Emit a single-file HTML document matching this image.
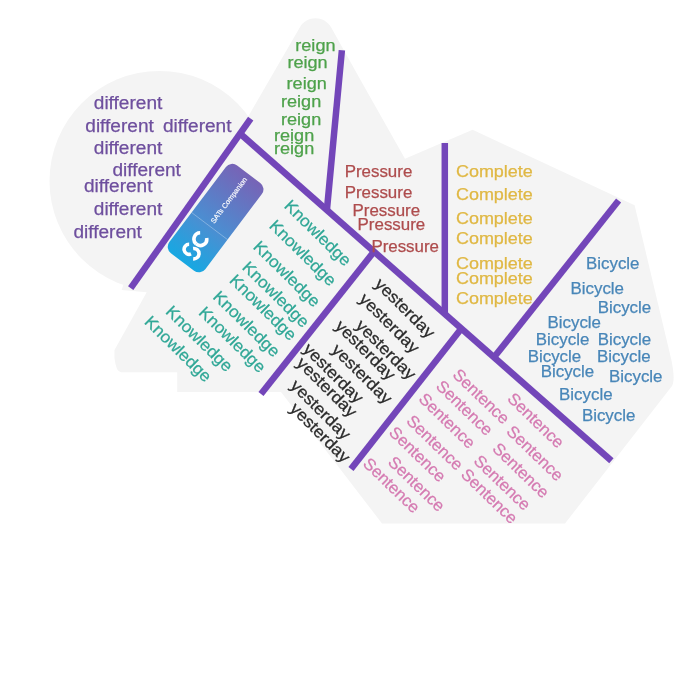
<!DOCTYPE html><html><head><meta charset="utf-8"><style>html,body{margin:0;padding:0;background:#fff;width:700px;height:700px;overflow:hidden}svg{display:block;will-change:transform}text{font-family:"Liberation Sans",sans-serif}</style></head><body>
<svg width="700" height="700" viewBox="0 0 700 700">
<g fill="#f4f4f4">
<circle cx="159.5" cy="181" r="110"/>
<path d="M 248.5,116 L 299.9,27.2 C 306.9,15.1 324.4,15.3 331.2,27.5 L 362.9,84.3 L 405,158.8 L 472.6,129.7 L 634.6,205.2 L 671.4,360 Q 675.5,380 672,386 L 565,523.5 L 382,523.5 L 281,392 L 177.2,392 L 177.2,372.2 L 121,372.2 Q 116,372 114.5,358 L 114.5,350 L 146.7,292.3 L 121.6,290 L 159.5,181 Z"/>
</g>
<g stroke="#7346b9" stroke-width="6.5" stroke-linecap="butt">
<line x1="250.7" y1="118.6" x2="130.7" y2="288.2"/>
<line x1="241.4" y1="134.7" x2="611.4" y2="460.8"/>
<line x1="341.9" y1="50.3" x2="326.9" y2="210"/>
<line x1="444.8" y1="143" x2="444.8" y2="313.5"/>
<line x1="618.6" y1="200.6" x2="494" y2="357.3"/>
<line x1="374" y1="251.6" x2="261" y2="394"/>
<line x1="461.4" y1="328.6" x2="351" y2="469"/>
</g>
<text x="93.8" y="108.6" font-size="18" fill="#6e4f9e" stroke="#6e4f9e" stroke-width="0.25" textLength="68.5" lengthAdjust="spacingAndGlyphs">different</text>
<text x="85.3" y="132.4" font-size="18" fill="#6e4f9e" stroke="#6e4f9e" stroke-width="0.25" textLength="68.5" lengthAdjust="spacingAndGlyphs">different</text>
<text x="163.0" y="132.4" font-size="18" fill="#6e4f9e" stroke="#6e4f9e" stroke-width="0.25" textLength="68.5" lengthAdjust="spacingAndGlyphs">different</text>
<text x="93.8" y="154.2" font-size="18" fill="#6e4f9e" stroke="#6e4f9e" stroke-width="0.25" textLength="68.5" lengthAdjust="spacingAndGlyphs">different</text>
<text x="112.4" y="176.0" font-size="18" fill="#6e4f9e" stroke="#6e4f9e" stroke-width="0.25" textLength="68.5" lengthAdjust="spacingAndGlyphs">different</text>
<text x="84.0" y="192.1" font-size="18" fill="#6e4f9e" stroke="#6e4f9e" stroke-width="0.25" textLength="68.5" lengthAdjust="spacingAndGlyphs">different</text>
<text x="93.8" y="215.4" font-size="18" fill="#6e4f9e" stroke="#6e4f9e" stroke-width="0.25" textLength="68.5" lengthAdjust="spacingAndGlyphs">different</text>
<text x="73.4" y="238.2" font-size="18" fill="#6e4f9e" stroke="#6e4f9e" stroke-width="0.25" textLength="68.5" lengthAdjust="spacingAndGlyphs">different</text>
<text x="295.3" y="50.8" font-size="16" fill="#4ea24b" stroke="#4ea24b" stroke-width="0.25" textLength="40.2" lengthAdjust="spacingAndGlyphs">reign</text>
<text x="287.4" y="68.1" font-size="16" fill="#4ea24b" stroke="#4ea24b" stroke-width="0.25" textLength="40.2" lengthAdjust="spacingAndGlyphs">reign</text>
<text x="286.6" y="89.0" font-size="16" fill="#4ea24b" stroke="#4ea24b" stroke-width="0.25" textLength="40.2" lengthAdjust="spacingAndGlyphs">reign</text>
<text x="281.0" y="107.1" font-size="16" fill="#4ea24b" stroke="#4ea24b" stroke-width="0.25" textLength="40.2" lengthAdjust="spacingAndGlyphs">reign</text>
<text x="281.0" y="124.7" font-size="16" fill="#4ea24b" stroke="#4ea24b" stroke-width="0.25" textLength="40.2" lengthAdjust="spacingAndGlyphs">reign</text>
<text x="274.0" y="141.0" font-size="16" fill="#4ea24b" stroke="#4ea24b" stroke-width="0.25" textLength="40.2" lengthAdjust="spacingAndGlyphs">reign</text>
<text x="274.0" y="153.5" font-size="16" fill="#4ea24b" stroke="#4ea24b" stroke-width="0.25" textLength="40.2" lengthAdjust="spacingAndGlyphs">reign</text>
<text x="344.7" y="176.5" font-size="15.8" fill="#ae4c4d" stroke="#ae4c4d" stroke-width="0.25" textLength="67.6" lengthAdjust="spacingAndGlyphs">Pressure</text>
<text x="344.7" y="198.2" font-size="15.8" fill="#ae4c4d" stroke="#ae4c4d" stroke-width="0.25" textLength="67.6" lengthAdjust="spacingAndGlyphs">Pressure</text>
<text x="352.5" y="215.5" font-size="15.8" fill="#ae4c4d" stroke="#ae4c4d" stroke-width="0.25" textLength="67.6" lengthAdjust="spacingAndGlyphs">Pressure</text>
<text x="357.6" y="230.4" font-size="15.8" fill="#ae4c4d" stroke="#ae4c4d" stroke-width="0.25" textLength="67.6" lengthAdjust="spacingAndGlyphs">Pressure</text>
<text x="371.4" y="251.6" font-size="15.8" fill="#ae4c4d" stroke="#ae4c4d" stroke-width="0.25" textLength="67.6" lengthAdjust="spacingAndGlyphs">Pressure</text>
<text x="455.9" y="177.2" font-size="16.6" fill="#e0b844" stroke="#e0b844" stroke-width="0.25" textLength="77" lengthAdjust="spacingAndGlyphs">Complete</text>
<text x="455.9" y="199.6" font-size="16.6" fill="#e0b844" stroke="#e0b844" stroke-width="0.25" textLength="77" lengthAdjust="spacingAndGlyphs">Complete</text>
<text x="455.9" y="224.0" font-size="16.6" fill="#e0b844" stroke="#e0b844" stroke-width="0.25" textLength="77" lengthAdjust="spacingAndGlyphs">Complete</text>
<text x="455.9" y="244.1" font-size="16.6" fill="#e0b844" stroke="#e0b844" stroke-width="0.25" textLength="77" lengthAdjust="spacingAndGlyphs">Complete</text>
<text x="455.9" y="268.8" font-size="16.6" fill="#e0b844" stroke="#e0b844" stroke-width="0.25" textLength="77" lengthAdjust="spacingAndGlyphs">Complete</text>
<text x="455.9" y="284.1" font-size="16.6" fill="#e0b844" stroke="#e0b844" stroke-width="0.25" textLength="77" lengthAdjust="spacingAndGlyphs">Complete</text>
<text x="455.9" y="303.6" font-size="16.6" fill="#e0b844" stroke="#e0b844" stroke-width="0.25" textLength="77" lengthAdjust="spacingAndGlyphs">Complete</text>
<text x="586.0" y="268.9" font-size="17" fill="#4886b8" stroke="#4886b8" stroke-width="0.25" textLength="53.5" lengthAdjust="spacingAndGlyphs">Bicycle</text>
<text x="570.5" y="293.8" font-size="17" fill="#4886b8" stroke="#4886b8" stroke-width="0.25" textLength="53.5" lengthAdjust="spacingAndGlyphs">Bicycle</text>
<text x="597.7" y="313.3" font-size="17" fill="#4886b8" stroke="#4886b8" stroke-width="0.25" textLength="53.5" lengthAdjust="spacingAndGlyphs">Bicycle</text>
<text x="547.5" y="327.7" font-size="17" fill="#4886b8" stroke="#4886b8" stroke-width="0.25" textLength="53.5" lengthAdjust="spacingAndGlyphs">Bicycle</text>
<text x="535.8" y="344.8" font-size="17" fill="#4886b8" stroke="#4886b8" stroke-width="0.25" textLength="53.5" lengthAdjust="spacingAndGlyphs">Bicycle</text>
<text x="597.7" y="344.8" font-size="17" fill="#4886b8" stroke="#4886b8" stroke-width="0.25" textLength="53.5" lengthAdjust="spacingAndGlyphs">Bicycle</text>
<text x="527.7" y="361.6" font-size="17" fill="#4886b8" stroke="#4886b8" stroke-width="0.25" textLength="53.5" lengthAdjust="spacingAndGlyphs">Bicycle</text>
<text x="597.1" y="361.6" font-size="17" fill="#4886b8" stroke="#4886b8" stroke-width="0.25" textLength="53.5" lengthAdjust="spacingAndGlyphs">Bicycle</text>
<text x="540.7" y="376.5" font-size="17" fill="#4886b8" stroke="#4886b8" stroke-width="0.25" textLength="53.5" lengthAdjust="spacingAndGlyphs">Bicycle</text>
<text x="609.0" y="382.0" font-size="17" fill="#4886b8" stroke="#4886b8" stroke-width="0.25" textLength="53.5" lengthAdjust="spacingAndGlyphs">Bicycle</text>
<text x="559.1" y="399.6" font-size="17" fill="#4886b8" stroke="#4886b8" stroke-width="0.25" textLength="53.5" lengthAdjust="spacingAndGlyphs">Bicycle</text>
<text x="581.9" y="421.3" font-size="17" fill="#4886b8" stroke="#4886b8" stroke-width="0.25" textLength="53.5" lengthAdjust="spacingAndGlyphs">Bicycle</text>
<text x="283.2" y="206.8" font-size="16.5" fill="#2fa796" stroke="#2fa796" stroke-width="0.25" textLength="86" lengthAdjust="spacingAndGlyphs" transform="rotate(44.5 283.2 206.8)">Knowledge</text>
<text x="268.2" y="226.7" font-size="16.5" fill="#2fa796" stroke="#2fa796" stroke-width="0.25" textLength="86" lengthAdjust="spacingAndGlyphs" transform="rotate(44.5 268.2 226.7)">Knowledge</text>
<text x="252.2" y="247.7" font-size="16.5" fill="#2fa796" stroke="#2fa796" stroke-width="0.25" textLength="86" lengthAdjust="spacingAndGlyphs" transform="rotate(44.5 252.2 247.7)">Knowledge</text>
<text x="241.2" y="268.2" font-size="16.5" fill="#2fa796" stroke="#2fa796" stroke-width="0.25" textLength="86" lengthAdjust="spacingAndGlyphs" transform="rotate(44.5 241.2 268.2)">Knowledge</text>
<text x="228.5" y="281.2" font-size="16.5" fill="#2fa796" stroke="#2fa796" stroke-width="0.25" textLength="86" lengthAdjust="spacingAndGlyphs" transform="rotate(44.5 228.5 281.2)">Knowledge</text>
<text x="212.0" y="297.7" font-size="16.5" fill="#2fa796" stroke="#2fa796" stroke-width="0.25" textLength="86" lengthAdjust="spacingAndGlyphs" transform="rotate(44.5 212.0 297.7)">Knowledge</text>
<text x="197.8" y="313.4" font-size="16.5" fill="#2fa796" stroke="#2fa796" stroke-width="0.25" textLength="86" lengthAdjust="spacingAndGlyphs" transform="rotate(44.5 197.8 313.4)">Knowledge</text>
<text x="164.8" y="312.6" font-size="16.5" fill="#2fa796" stroke="#2fa796" stroke-width="0.25" textLength="86" lengthAdjust="spacingAndGlyphs" transform="rotate(44.5 164.8 312.6)">Knowledge</text>
<text x="143.6" y="322.8" font-size="16.5" fill="#2fa796" stroke="#2fa796" stroke-width="0.25" textLength="86" lengthAdjust="spacingAndGlyphs" transform="rotate(44.5 143.6 322.8)">Knowledge</text>
<text x="373.7" y="284.9" font-size="16.5" fill="#2b2b2b" stroke="#2b2b2b" stroke-width="0.25" textLength="77" lengthAdjust="spacingAndGlyphs" transform="rotate(44.8 373.7 284.9)">yesterday</text>
<text x="358.2" y="299.9" font-size="16.5" fill="#2b2b2b" stroke="#2b2b2b" stroke-width="0.25" textLength="77" lengthAdjust="spacingAndGlyphs" transform="rotate(44.8 358.2 299.9)">yesterday</text>
<text x="354.7" y="326.4" font-size="16.5" fill="#2b2b2b" stroke="#2b2b2b" stroke-width="0.25" textLength="77" lengthAdjust="spacingAndGlyphs" transform="rotate(44.8 354.7 326.4)">yesterday</text>
<text x="334.2" y="326.9" font-size="16.5" fill="#2b2b2b" stroke="#2b2b2b" stroke-width="0.25" textLength="77" lengthAdjust="spacingAndGlyphs" transform="rotate(44.8 334.2 326.9)">yesterday</text>
<text x="330.8" y="350.7" font-size="16.5" fill="#2b2b2b" stroke="#2b2b2b" stroke-width="0.25" textLength="77" lengthAdjust="spacingAndGlyphs" transform="rotate(44.8 330.8 350.7)">yesterday</text>
<text x="302.2" y="350.1" font-size="16.5" fill="#2b2b2b" stroke="#2b2b2b" stroke-width="0.25" textLength="77" lengthAdjust="spacingAndGlyphs" transform="rotate(44.8 302.2 350.1)">yesterday</text>
<text x="295.6" y="364.1" font-size="16.5" fill="#2b2b2b" stroke="#2b2b2b" stroke-width="0.25" textLength="77" lengthAdjust="spacingAndGlyphs" transform="rotate(44.8 295.6 364.1)">yesterday</text>
<text x="289.5" y="386.5" font-size="16.5" fill="#2b2b2b" stroke="#2b2b2b" stroke-width="0.25" textLength="77" lengthAdjust="spacingAndGlyphs" transform="rotate(44.8 289.5 386.5)">yesterday</text>
<text x="288.9" y="409.6" font-size="16.5" fill="#2b2b2b" stroke="#2b2b2b" stroke-width="0.25" textLength="77" lengthAdjust="spacingAndGlyphs" transform="rotate(44.8 288.9 409.6)">yesterday</text>
<text x="451.8" y="375.7" font-size="16.5" fill="#d57bb2" stroke="#d57bb2" stroke-width="0.25" textLength="71" lengthAdjust="spacingAndGlyphs" transform="rotate(44 451.8 375.7)">Sentence</text>
<text x="435.1" y="387.3" font-size="16.5" fill="#d57bb2" stroke="#d57bb2" stroke-width="0.25" textLength="71" lengthAdjust="spacingAndGlyphs" transform="rotate(44 435.1 387.3)">Sentence</text>
<text x="417.7" y="400.1" font-size="16.5" fill="#d57bb2" stroke="#d57bb2" stroke-width="0.25" textLength="71" lengthAdjust="spacingAndGlyphs" transform="rotate(44 417.7 400.1)">Sentence</text>
<text x="405.5" y="422.0" font-size="16.5" fill="#d57bb2" stroke="#d57bb2" stroke-width="0.25" textLength="71" lengthAdjust="spacingAndGlyphs" transform="rotate(44 405.5 422.0)">Sentence</text>
<text x="388.1" y="433.6" font-size="16.5" fill="#d57bb2" stroke="#d57bb2" stroke-width="0.25" textLength="71" lengthAdjust="spacingAndGlyphs" transform="rotate(44 388.1 433.6)">Sentence</text>
<text x="387.1" y="463.3" font-size="16.5" fill="#d57bb2" stroke="#d57bb2" stroke-width="0.25" textLength="71" lengthAdjust="spacingAndGlyphs" transform="rotate(44 387.1 463.3)">Sentence</text>
<text x="362.1" y="464.7" font-size="16.5" fill="#d57bb2" stroke="#d57bb2" stroke-width="0.25" textLength="71" lengthAdjust="spacingAndGlyphs" transform="rotate(44 362.1 464.7)">Sentence</text>
<text x="506.4" y="399.7" font-size="16.5" fill="#d57bb2" stroke="#d57bb2" stroke-width="0.25" textLength="71" lengthAdjust="spacingAndGlyphs" transform="rotate(44 506.4 399.7)">Sentence</text>
<text x="505.6" y="432.6" font-size="16.5" fill="#d57bb2" stroke="#d57bb2" stroke-width="0.25" textLength="71" lengthAdjust="spacingAndGlyphs" transform="rotate(44 505.6 432.6)">Sentence</text>
<text x="491.4" y="449.7" font-size="16.5" fill="#d57bb2" stroke="#d57bb2" stroke-width="0.25" textLength="71" lengthAdjust="spacingAndGlyphs" transform="rotate(44 491.4 449.7)">Sentence</text>
<text x="472.8" y="461.9" font-size="16.5" fill="#d57bb2" stroke="#d57bb2" stroke-width="0.25" textLength="71" lengthAdjust="spacingAndGlyphs" transform="rotate(44 472.8 461.9)">Sentence</text>
<text x="459.9" y="475.4" font-size="16.5" fill="#d57bb2" stroke="#d57bb2" stroke-width="0.25" textLength="71" lengthAdjust="spacingAndGlyphs" transform="rotate(44 459.9 475.4)">Sentence</text>
<defs><linearGradient id="lg" x1="0" y1="0" x2="1" y2="0"><stop offset="0" stop-color="#17a8e2"/><stop offset="0.4" stop-color="#4a8fd2"/><stop offset="1" stop-color="#7763b6"/></linearGradient></defs>
<g transform="translate(215.6 218.1) rotate(-53)">
<rect x="-55" y="-22.5" width="110" height="45" rx="8" fill="url(#lg)"/>
<line x1="-10" y1="-22.5" x2="-10" y2="22.5" stroke="#ffffff" stroke-opacity="0.3" stroke-width="0.9"/>
<text x="-5.5" y="2.3" font-size="7.2" fill="#ffffff" stroke="#ffffff" stroke-width="0.15" textLength="55.5" lengthAdjust="spacingAndGlyphs">SATs Companion</text>
<path d="M-36.85,-5.34 A5.0,5.0 0 1 0 -43.40,1.93 M-37.82,0.32 A5.2,5.2 0 1 1 -46.00,6.60 M-21.04,-3.48 A6.3,6.3 0 0 0 -32.28,-0.04 M-32.28,0.16 A6.3,6.3 0 0 0 -21.32,4.82" fill="none" stroke="#ffffff" stroke-width="3.6"/>
</g>
</svg></body></html>
